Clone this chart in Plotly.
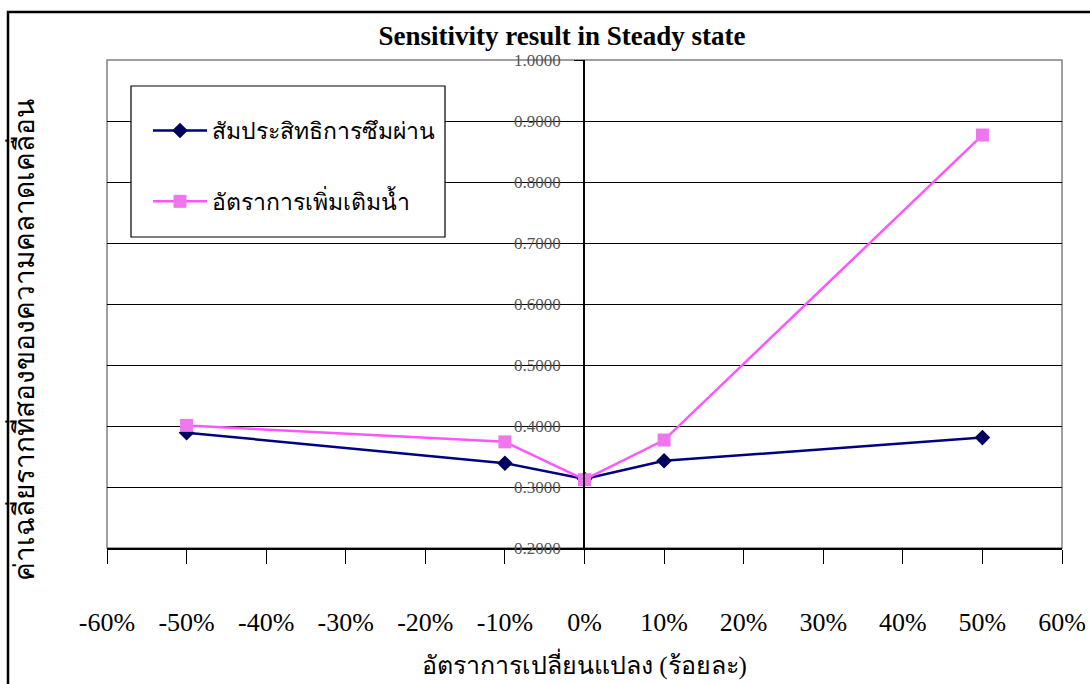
import plotly.graph_objects as go

# ---- data ----
x_change = [-50, -10, 0, 10, 50]
series1_name = "สัมประสิทธิการซึมผ่าน"
series1_vals = [0.389, 0.339, 0.313, 0.343, 0.381]
series2_name = "อัตราการเพิ่มเติมน้ำ"
series2_vals = [0.401, 0.374, 0.312, 0.377, 0.877]

x_tick_vals = [-60, -50, -40, -30, -20, -10, 0, 10, 20, 30, 40, 50, 60]
x_tick_labels = ["-60%", "-50%", "-40%", "-30%", "-20%", "-10%", "0%",
                 "10%", "20%", "30%", "40%", "50%", "60%"]
y_tick_vals = [0.2, 0.3, 0.4, 0.5, 0.6, 0.7, 0.8, 0.9, 1.0]

title_text = "Sensitivity result in Steady state"
x_title = "อัตราการเปลี่ยนแปลง (ร้อยละ)"
y_title = "ค่าเฉลี่ยรากที่สองของความคลาดเคลื่อน"

# ---- layout geometry (pixels) ----
W, H = 1090, 684
L, R, T, B = 107, 28, 60, 136
pw, ph = W - L - R, H - T - B

def px_x(p):
    return (p - L) / pw

def px_y(p):
    return (H - B - p) / ph

serif = "Liberation Serif, Times New Roman, serif"

fig = go.Figure()
fig.add_trace(go.Scatter(
    x=x_change, y=series1_vals, name=series1_name, mode="lines+markers",
    line=dict(color="#000080", width=2.5),
    marker=dict(symbol="diamond", size=12, color="#000060"),
    legendgroup="a",
))
fig.add_trace(go.Scatter(
    x=x_change, y=series2_vals, name=series2_name, mode="lines+markers",
    line=dict(color="#FF55FF", width=2.5),
    marker=dict(symbol="square", size=13, color="#EE77EE"),
    legendgroup="b",
))

fig.update_layout(
    width=W, height=H,
    margin=dict(l=L, r=R, t=T, b=B, autoexpand=False),
    paper_bgcolor="white", plot_bgcolor="white",
    font=dict(family=serif, color="black"),
    title=dict(text="<b>" + title_text + "</b>", x=562 / W, y=1 - 36 / H,
               xanchor="center", yanchor="middle",
               font=dict(family=serif, size=27, color="black")),
    showlegend=True,
    legend=dict(x=px_x(148), y=px_y(109), xanchor="left", yanchor="top",
                borderwidth=0, bgcolor="rgba(0,0,0,0)",
                font=dict(family=serif, size=23, color="black"),
                traceorder="grouped", tracegroupgap=38,
                itemwidth=54),
    xaxis=dict(range=[-60, 60], tickvals=x_tick_vals, ticktext=x_tick_labels,
               showgrid=False, zeroline=False,
               showline=True, linecolor="black", linewidth=2,
               ticks="outside", ticklen=14, tickcolor="black", tickwidth=1,
               ticklabelstandoff=36,
               tickfont=dict(family=serif, size=26, color="black")),
    yaxis=dict(range=[0.2, 1.0], tickvals=y_tick_vals, tickformat=".4f",
               anchor="free", position=px_x(584),
               showgrid=True, gridcolor="black", gridwidth=1,
               zeroline=False,
               showline=True, linecolor="black", linewidth=1.5,
               ticks="outside", ticklen=9, tickcolor="black",
               ticklabelstandoff=10,
               tickfont=dict(family=serif, size=17, color="#555555")),
)

# plot-area border (gray), legend box, outer chart border (black)
fig.add_shape(type="rect", xref="paper", yref="paper", x0=0, x1=1, y0=0, y1=1,
              line=dict(color="#808080", width=1.5), layer="below")
fig.add_shape(type="rect", xref="paper", yref="paper",
              x0=px_x(131), x1=px_x(445), y0=px_y(237), y1=px_y(86),
              fillcolor="white", line=dict(color="black", width=1.2),
              layer="above")
fig.add_shape(type="rect", xref="paper", yref="paper",
              x0=px_x(8), x1=px_x(1100), y0=px_y(700), y1=px_y(12),
              line=dict(color="black", width=2.5), layer="above")

fig.add_annotation(text=y_title, xref="paper", yref="paper",
                   x=px_x(22), y=px_y(340), textangle=-90, showarrow=False,
                   xanchor="center", yanchor="middle",
                   font=dict(family=serif, size=28, color="black"))
fig.add_annotation(text=x_title, xref="paper", yref="paper",
                   x=px_x(584), y=px_y(664), showarrow=False,
                   xanchor="center", yanchor="middle",
                   font=dict(family=serif, size=25, color="black"))

fig.write_html("out.html")
